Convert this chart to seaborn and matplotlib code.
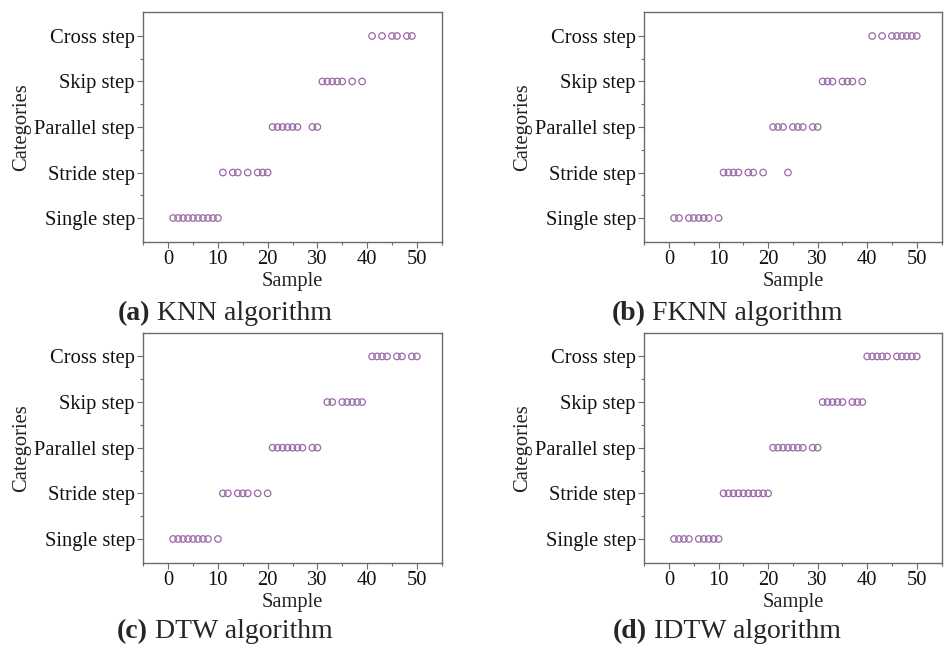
import matplotlib
matplotlib.use("Agg")
import matplotlib.pyplot as plt
from matplotlib.ticker import MultipleLocator, FixedLocator
import seaborn as sns
import pandas as pd

sns.set_theme(style="white")
plt.rcParams['font.family'] = ['Liberation Serif', 'DejaVu Serif']

categories = ["Single step", "Stride step", "Parallel step", "Skip step", "Cross step"]

knn_single = [1, 2, 3, 4, 5, 6, 7, 8, 9, 10]
knn_stride = [11, 13, 14, 16, 18, 19, 20]
knn_parallel = [21, 22, 23, 24, 25, 26, 29, 30]
knn_skip = [31, 32, 33, 34, 35, 37, 39]
knn_cross = [41, 43, 45, 46, 48, 49]

fknn_single = [1, 2, 4, 5, 6, 7, 8, 10]
fknn_stride = [11, 12, 13, 14, 16, 17, 19, 24]
fknn_parallel = [21, 22, 23, 25, 26, 27, 29, 30]
fknn_skip = [31, 32, 33, 35, 36, 37, 39]
fknn_cross = [41, 43, 45, 46, 47, 48, 49, 50]

dtw_single = [1, 2, 3, 4, 5, 6, 7, 8, 10]
dtw_stride = [11, 12, 14, 15, 16, 18, 20]
dtw_parallel = [21, 22, 23, 24, 25, 26, 27, 29, 30]
dtw_skip = [32, 33, 35, 36, 37, 38, 39]
dtw_cross = [41, 42, 43, 44, 46, 47, 49, 50]

idtw_single = [1, 2, 3, 4, 6, 7, 8, 9, 10]
idtw_stride = [11, 12, 13, 14, 15, 16, 17, 18, 19, 20]
idtw_parallel = [21, 22, 23, 24, 25, 26, 27, 29, 30]
idtw_skip = [31, 32, 33, 34, 35, 37, 38, 39]
idtw_cross = [40, 41, 42, 43, 44, 46, 47, 48, 49, 50]

panels = [
    ("(a)", " KNN algorithm", [knn_single, knn_stride, knn_parallel, knn_skip, knn_cross]),
    ("(b)", " FKNN algorithm", [fknn_single, fknn_stride, fknn_parallel, fknn_skip, fknn_cross]),
    ("(c)", " DTW algorithm", [dtw_single, dtw_stride, dtw_parallel, dtw_skip, dtw_cross]),
    ("(d)", " IDTW algorithm", [idtw_single, idtw_stride, idtw_parallel, idtw_skip, idtw_cross]),
]

W, H = 946, 648
fig = plt.figure(figsize=(W / 100, H / 100), dpi=100)

# axes boxes in pixels: left, top, right, bottom
boxes = [
    (143.3, 12.3, 441.7, 241.7),
    (644.3, 12.3, 941.5, 241.7),
    (143.3, 332.7, 441.7, 562.7),
    (644.3, 332.7, 941.5, 562.7),
]
caption_pos = [(225, 314), (727, 314), (225, 632), (727, 632)]

marker_color = "#9a6aa6"
edge_gray = "#6b6b6b"
fs = 14.8

for (lab_b, lab_r, series), (l, t, r, b), (cx, cy) in zip(panels, boxes, caption_pos):
    ax = fig.add_axes([l / W, 1 - b / H, (r - l) / W, (b - t) / H])
    rows = []
    for i, (cat, vals) in enumerate(zip(categories, series)):
        for v in vals:
            rows.append({"Sample": v, "pos": i, "Category": cat})
    df = pd.DataFrame(rows)
    sns.scatterplot(data=df, x="Sample", y="pos", ax=ax, marker="o", s=22,
                    facecolors="none", edgecolor=marker_color, linewidth=0.9,
                    legend=False)
    ax.set_xlim(-5, 55)
    ax.set_ylim(-0.52, 4.52)
    ax.xaxis.set_major_locator(MultipleLocator(10))
    ax.xaxis.set_minor_locator(MultipleLocator(5))
    ax.yaxis.set_major_locator(FixedLocator(list(range(len(categories)))))
    ax.yaxis.set_minor_locator(FixedLocator([0.5, 1.5, 2.5, 3.5]))
    ax.set_yticklabels(categories)
    ax.tick_params(axis="both", which="major", direction="out", length=4, width=0.8,
                   color=edge_gray, labelsize=fs, labelcolor="#111111", pad=2,
                   bottom=True, left=True)
    ax.tick_params(axis="both", which="minor", direction="out", length=2.5, width=0.8,
                   color=edge_gray, bottom=True, left=True)
    for sp in ax.spines.values():
        sp.set_color(edge_gray)
        sp.set_linewidth(1.0)
    ax.set_xlabel("Sample", fontsize=fs, color="#222222", labelpad=2)
    ax.set_ylabel("Categories", fontsize=fs, color="#222222")
    ax.yaxis.set_label_coords(-112.0 / (r - l), 0.5)
    ax.grid(False)

    # caption: bold label + regular text, centered as a whole
    fig.canvas.draw()
    renderer = fig.canvas.get_renderer()
    t1 = fig.text(0, 1 - cy / H, lab_b, fontsize=20, fontweight="bold", ha="left", va="center")
    t2 = fig.text(0, 1 - cy / H, lab_r, fontsize=20, ha="left", va="center")
    w1 = t1.get_window_extent(renderer).width
    w2 = t2.get_window_extent(renderer).width
    x0 = cx - (w1 + w2) / 2
    t1.set_x(x0 / W)
    t2.set_x((x0 + w1) / W)

fig.savefig("out.png", dpi=100)
